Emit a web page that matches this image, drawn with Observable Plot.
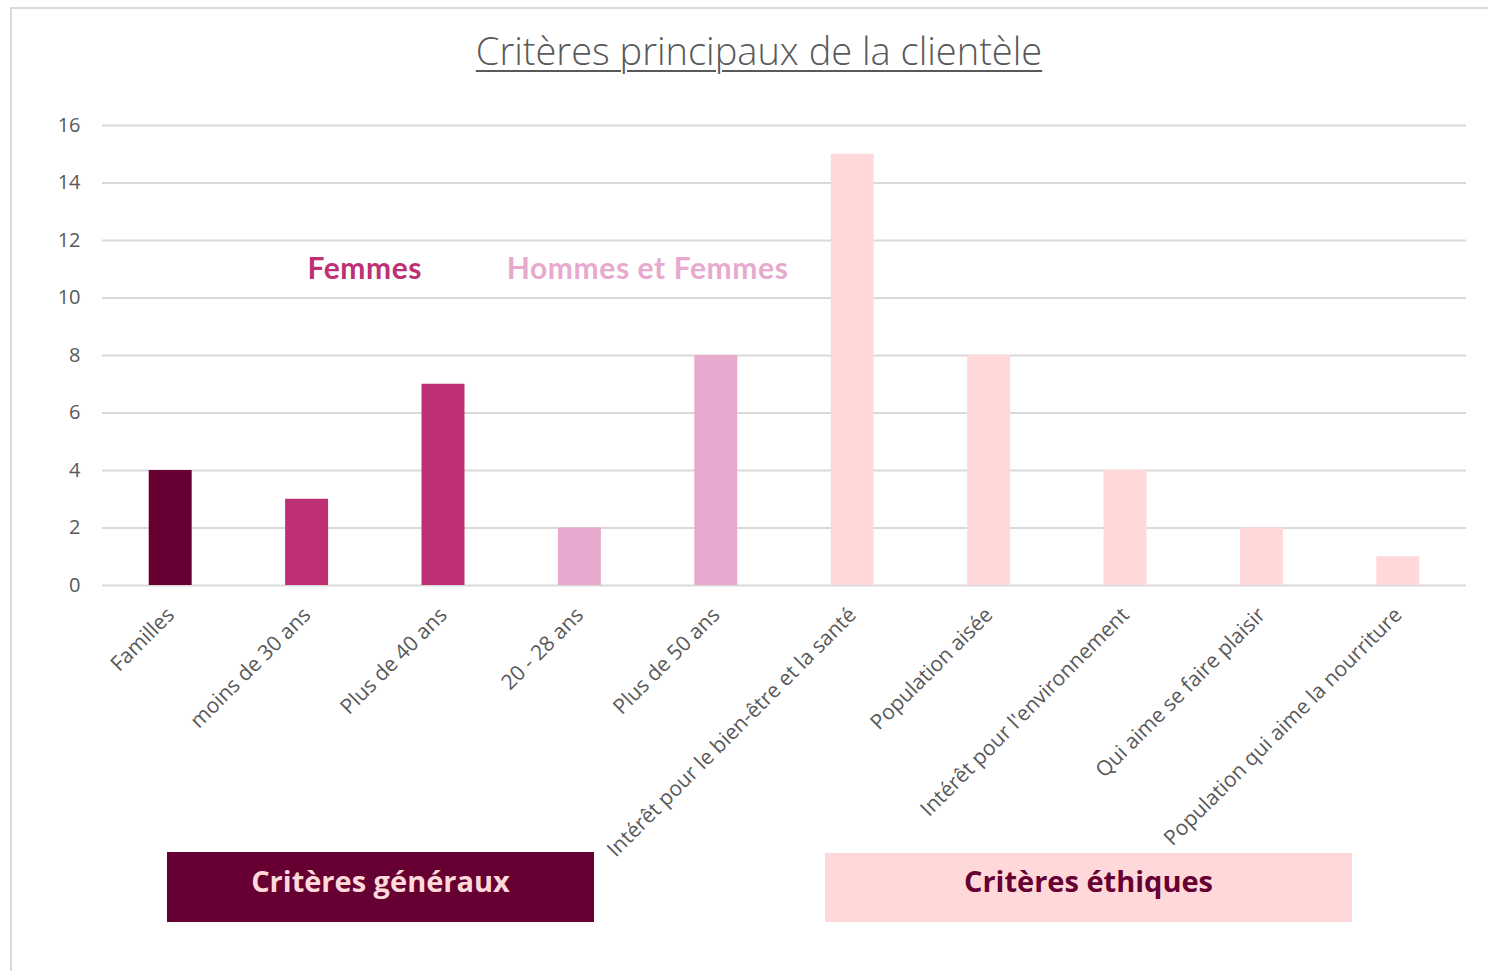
<!DOCTYPE html>
<html>
<head>
<meta charset="utf-8">
<script src="https://cdn.jsdelivr.net/npm/d3@7"></script>
<script src="https://cdn.jsdelivr.net/npm/@observablehq/plot@0.6"></script>
<style>
  html, body { margin: 0; padding: 0; background: #fff; }
  body { width: 1488px; height: 971px; position: relative; overflow: hidden; font-family: "Open Sans", sans-serif; }
  #frame { position: absolute; left: 10px; top: 7px; width: 1500px; height: 1000px; border: 2px solid #d9d9d9; box-sizing: border-box; }
  #chart { position: absolute; left: 0; top: 0; }
  #title { position: absolute; left: 0; width: 1518px; top: 24px; text-align: center; font-family: "Open Sans", sans-serif; font-weight: 300; font-size: 38px; color: #595959; text-decoration: underline; text-decoration-thickness: 2px; text-underline-offset: 5px; }
  .box { position: absolute; display: flex; align-items: center; justify-content: center; font-family: "Open Sans", sans-serif; font-weight: 700; font-size: 29px; letter-spacing: 0px; box-sizing: border-box; padding-bottom: 14px; }
  #b1 { left: 167px; top: 852px; width: 427px; height: 70px; background: #660033; color: #ffd9da; }
  #b2 { left: 825px; top: 853px; width: 527px; height: 69px; background: #ffd9da; color: #660033; }
</style>
</head>
<body>
<div id="frame"></div>
<div id="chart"></div>
<div id="title">Critères principaux de la clientèle</div>
<div class="box" id="b1">Critères généraux</div>
<div class="box" id="b2">Critères éthiques</div>
<script>
const categories = [
  "Familles",
  "moins de 30 ans",
  "Plus de 40 ans",
  "20 - 28 ans",
  "Plus de 50 ans",
  "Intérêt pour le bien-être et la santé",
  "Population aisée",
  "Intérêt pour l'environnement",
  "Qui aime se faire plaisir",
  "Population qui aime la nourriture"
];
const values = [4, 3, 7, 2, 8, 15, 8, 4, 2, 1];
const groups = ["Familles", "Femmes", "Femmes", "Hommes et Femmes", "Hommes et Femmes", "Éthique", "Éthique", "Éthique", "Éthique", "Éthique"];
const groupNames = ["Familles", "Femmes", "Hommes et Femmes", "Éthique"];
const groupColors = ["#660033", "#bd3073", "#e8a9cf", "#ffd9da"];
const yTicks = [0, 2, 4, 6, 8, 10, 12, 14, 16];
const annotationLabels = ["Femmes", "Hommes et Femmes"];
const annotationBetween = [["moins de 30 ans", "Plus de 40 ans"], ["20 - 28 ans", "Plus de 50 ans"]];
const annotationY = [11, 11];
const annotationColors = ["#bd3073", "#e8a9cf"];
const annotationOffset = [-10, 0];

const data = categories.map((c, i) => ({category: c, value: values[i], group: groups[i]}));
const annotations = annotationLabels.map((l, i) => ({label: l, between: annotationBetween[i], y: annotationY[i], color: annotationColors[i], dx: annotationOffset[i]}));

const chart = Plot.plot({
  width: 1488,
  height: 971,
  marginLeft: 102,
  marginRight: 22,
  marginTop: 125,
  marginBottom: 386,
  style: {fontFamily: "Open Sans, sans-serif", fontSize: "20px", color: "#595959", background: "transparent"},
  x: {domain: categories, paddingInner: 0.685, paddingOuter: 0.3425, round: false, label: null},
  y: {domain: [0, 16], ticks: yTicks, label: null},
  color: {domain: groupNames, range: groupColors},
  marks: [
    Plot.gridY(yTicks, {stroke: "#d9d9d9", strokeOpacity: 1, strokeWidth: 2}),
    Plot.barY(data, {x: "category", y: "value", fill: "group"}),
    Plot.axisY({ticks: yTicks, tickSize: 0, tickPadding: 22, fontSize: 20, fill: "#595959", label: null}),
    Plot.axisX({tickSize: 0, tickRotate: -45, tickPadding: 26, fontSize: 21, fill: "#595959", label: null, lineWidth: 100}),
    Plot.text(annotations, {
      x: d => d.between[1],
      y: "y",
      text: "label",
      fill: "color",
      fontSize: 30,
      fontWeight: 700,
      fontFamily: "Lato, sans-serif",
      textAnchor: "middle"
    })
  ]
});
document.getElementById("chart").appendChild(chart);

// centre each annotation between its two categories, using the chart's x scale
const xs = chart.scale("x");
const texts = chart.querySelectorAll("g[aria-label='text'] text");
texts.forEach((t, i) => {
  t.style.letterSpacing = "0.6px";
  const a = annotations[i];
  const x0 = xs.apply(a.between[0]) + xs.bandwidth / 2;
  const x1 = xs.apply(a.between[1]) + xs.bandwidth / 2;
  const target = (x0 + x1) / 2 + a.dx;
  const r = t.getBoundingClientRect();
  const svgR = chart.getBoundingClientRect();
  const current = r.left - svgR.left + r.width / 2;
  const shift = target - current;
  t.setAttribute("transform", (t.getAttribute("transform") || "") + ` translate(${shift},0)`);
});
</script>
</body>
</html>
